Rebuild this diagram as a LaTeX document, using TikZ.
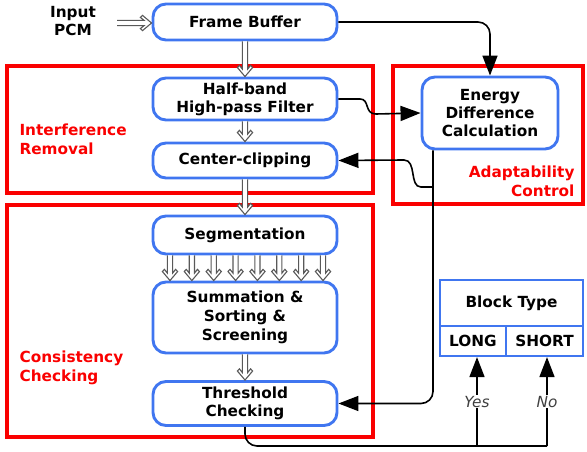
\documentclass[tikz,border=0pt]{standalone}
\usepackage{fontspec}
\setmainfont{DejaVu Sans}
\usetikzlibrary{arrows.meta,calc}
\definecolor{bblue}{RGB}{64,118,240}
\definecolor{rred}{RGB}{250,0,0}
\begin{document}
\begin{tikzpicture}[x=1pt,y=-1pt,
  txt/.style={font=\fontsize{15.3}{18}\selectfont\bfseries, align=center},
  blk/.style={txt, draw=bblue, line width=2.9pt, rounded corners=13pt, inner sep=0pt},
  rbox/.style={draw=rred, line width=4.5pt, inner sep=0pt},
  cell/.style={txt, draw=bblue, line width=2.2pt, inner sep=0pt},
  lab/.style={font=\fontsize{15.3}{19}\selectfont\bfseries, text=rred, align=left},
  holbase/.style={draw=black!65, fill=white, line width=1.1pt},
  holdown/.style={holbase, to path={let \p1=(\tikztostart), \p2=(\tikztotarget) in
    (\x2-2.6pt,\y1) -- (\x2-2.6pt,\y2+7.4pt) -- (\x2-5.6pt,\y2+11.2pt) -- (\x2-7.6pt,\y2+9pt) -- (\x2,\y2)
    -- (\x2+7.6pt,\y2+9pt) -- (\x2+5.6pt,\y2+11.2pt) -- (\x2+2.6pt,\y2+7.4pt) -- (\x2+2.6pt,\y1)}},
  holright/.style={holbase, to path={let \p1=(\tikztostart), \p2=(\tikztotarget) in
    (\x1,\y2+2.6pt) -- (\x2-7.4pt,\y2+2.6pt) -- (\x2-11.2pt,\y2+5.6pt) -- (\x2-9pt,\y2+7.6pt) -- (\x2,\y2)
    -- (\x2-9pt,\y2-7.6pt) -- (\x2-11.2pt,\y2-5.6pt) -- (\x2-7.4pt,\y2-2.6pt) -- (\x1,\y2-2.6pt)}},
  arr/.style={line width=1.6pt, -{Triangle[length=20pt,width=15pt]}},
  ln/.style={line width=1.6pt},
  yn/.style={fill=white, inner sep=1pt, font=\fontsize{15.3}{18}\selectfont\itshape, text=black!75}]
\useasboundingbox (0,0) rectangle (587,452);
% red containers
\node[rbox, minimum width=366pt, minimum height=127pt] (ir) at (190,129.5) {};
\node[rbox, minimum width=190pt, minimum height=138pt] (ac) at (488,135) {};
\node[rbox, minimum width=366pt, minimum height=232pt] (cc) at (190,321) {};
% blocks
\node[blk, minimum width=184pt, minimum height=36pt] (fb) at (245,22) {Frame Buffer};
\node[blk, minimum width=184pt, minimum height=42pt] (hb) at (245,99) {Half-band\\High-pass Filter};
\node[blk, minimum width=184pt, minimum height=35pt] (cl) at (245,160.5) {Center-clipping};
\node[blk, minimum width=184pt, minimum height=38pt] (sg) at (245,235) {Segmentation};
\node[blk, minimum width=184pt, minimum height=71pt, font=\fontsize{15.3}{19}\selectfont\bfseries] (sm) at (245,317.5) {Summation \&\\Sorting \&\\Screening};
\node[blk, minimum width=184pt, minimum height=44pt] (th) at (245,403.5) {Threshold\\Checking};
\node[blk, minimum width=136pt, minimum height=72pt] (en) at (490,113) {Energy\\Difference\\Calculation};
% block type table
\node[cell, minimum width=143pt, minimum height=46pt] (bt) at (511.5,303) {Block Type};
\node[cell, minimum width=66pt, minimum height=30pt] (lg) at (473,341) {LONG};
\node[cell, minimum width=77pt, minimum height=30pt] (sh) at (544.5,341) {SHORT};
% labels
\node[txt] (in) at (73,21) {Input\\PCM};
\node[lab, anchor=west] (lir) at (16,139.5) {Interference\\Removal};
\node[lab, anchor=east, align=right] (lac) at (578,181.5) {Adaptability\\Control};
\node[lab, anchor=west] (lcc) at (16,367.5) {Consistency\\Checking};
% hollow arrows
\coordinate (inr) at (117,21);
\draw[holright] (inr) to ([yshift=-1pt]fb.west);
\draw[holdown] (fb.south) to (hb.north);
\draw[holdown] (hb.south) to (cl.north);
\draw[holdown] (cl.south) to (sg.north);
\foreach \i in {0,...,7}{
  \draw[holdown] ([xshift={170+21.86*\i-245}]sg.south) to ([xshift={170+21.86*\i-245}]sm.north);
}
\draw[holdown] (sm.south) to (th.north);
% black connectors
\draw[arr, rounded corners=12pt] (fb.east) -| (en.north);
\draw[arr] (hb.east) -- (360,99) .. controls (370,99) and (364,114) .. (376,114) -- (en.west);
\coordinate (eb) at ([xshift=-57pt]en.south);
\coordinate (br) at (433,187);
\draw[arr, rounded corners=12pt] (eb) |- (th.east);
\draw[arr] (br) -- (421,187) .. controls (409,187) and (417,160) .. (404,160) -- (cl.east);
\coordinate (jn) at (547,446);
\coordinate (jy) at (477,446);
\draw[ln, rounded corners=12pt] (th.south) |- (jn);
\draw[arr] (jy) -- node[yn] (yes) {Yes} (lg.south -| jy);
\draw[arr] (jn) -- node[yn] (no) {No} (sh.south -| jn);
\end{tikzpicture}
\end{document}
